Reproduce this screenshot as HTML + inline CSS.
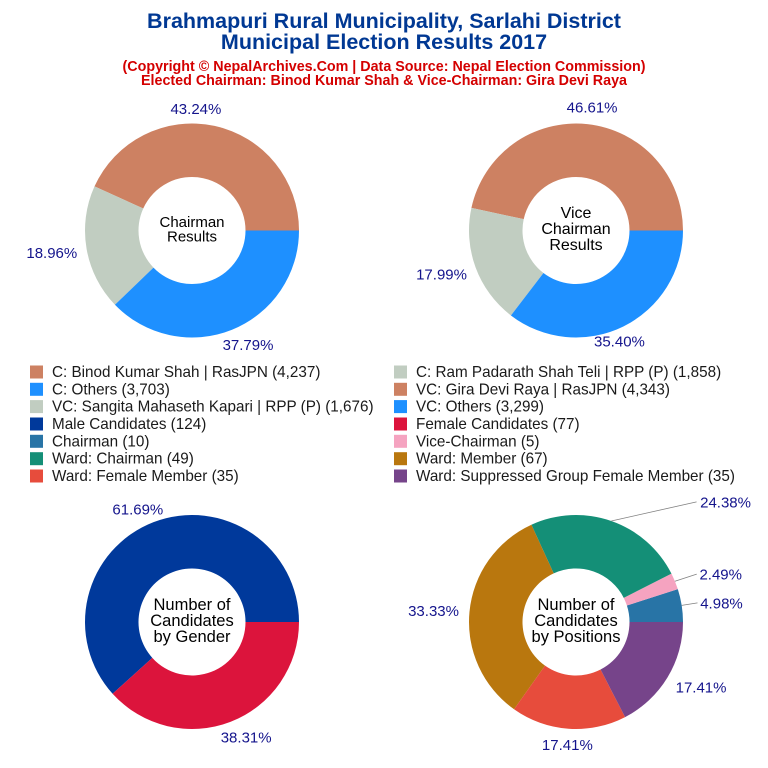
<!DOCTYPE html>
<html lang="en">
<head>
<meta charset="utf-8">
<title>Brahmapuri Rural Municipality Election Results</title>
<style>
html,body{margin:0;padding:0;background:#fff;}
svg{display:block;font-family:"Liberation Sans",Arial,sans-serif;filter:blur(0.35px);}
</style>
</head>
<body>
<svg id="chart" width="768" height="768" viewBox="0 0 768 768" xmlns="http://www.w3.org/2000/svg">
  <rect width="768" height="768" fill="#fff"/>
  <text x="384" y="28" text-anchor="middle" font-size="21.5" font-weight="bold" fill="#003893">Brahmapuri Rural Municipality, Sarlahi District</text>
  <text x="384" y="49" text-anchor="middle" font-size="21.5" font-weight="bold" fill="#003893">Municipal Election Results 2017</text>
  <text x="384" y="71" text-anchor="middle" font-size="14.3" font-weight="bold" fill="#d40000">(Copyright © NepalArchives.Com | Data Source: Nepal Election Commission)</text>
  <text x="384" y="85" text-anchor="middle" font-size="14.3" font-weight="bold" fill="#d40000">Elected Chairman: Binod Kumar Shah &amp; Vice-Chairman: Gira Devi Raya</text>
  <g id="donuts"></g>
  <g id="legend"></g>
</svg>
<script>
// Data (slices listed counter-clockwise from 3 o'clock)
const chairmanValues = [4237, 1858, 3703];
const viceChairmanValues = [4343, 1676, 3299];
const genderValues = [124, 77];
const positionValues = [10, 5, 49, 67, 35, 35];

const chairmanNames = ['C: Binod Kumar Shah | RasJPN', 'C: Ram Padarath Shah Teli | RPP (P)', 'C: Others'];
const viceChairmanNames = ['VC: Gira Devi Raya | RasJPN', 'VC: Sangita Mahaseth Kapari | RPP (P)', 'VC: Others'];
const genderNames = ['Male Candidates', 'Female Candidates'];
const positionNames = ['Chairman', 'Vice-Chairman', 'Ward: Chairman', 'Ward: Member', 'Ward: Female Member', 'Ward: Suppressed Group Female Member'];

// Styling and layout (not data)
const NS = 'http://www.w3.org/2000/svg';
const chairmanColors = ['#CD8162', '#C1CDC1', '#1E90FF'];
const viceColors = ['#CD8162', '#C1CDC1', '#1E90FF'];
const genderColors = ['#00399B', '#DC143C'];
const positionColors = ['#2874A6', '#F5A3C0', '#148F77', '#B9770E', '#E74C3C', '#76448A'];
const LABEL_COLOR = '#14148c';
const OUTER = 107;
const INNER = 53.5;
const LABEL_R = 123;

const donutSpecs = [
  {name:'chairman', cx:192, cy:230.5, values:chairmanValues, colors:chairmanColors, center:['Chairman','Results'], centerY:[227,241.5], centerSize:15,
   nudges:[[-22,-2],[-19,1],[10,0]], leaders:[]},
  {name:'vice-chairman', cx:576, cy:230.5, values:viceChairmanValues, colors:viceColors, center:['Vice','Chairman','Results'], centerY:[218,234,250], centerSize:16,
   nudges:[[3,-1],[-19,1],[-11,0]], leaders:[]},
  {name:'gender', cx:192, cy:622, values:genderValues, colors:genderColors, center:['Number of','Candidates','by Gender'], centerY:[610,626,642], centerSize:16.5,
   nudges:[[-10,2],[10,0]], leaders:[]},
  {name:'positions', cx:576, cy:622, values:positionValues, colors:positionColors, center:['Number of','Candidates','by Positions'], centerY:[610,626,642], centerSize:16.5,
   nudges:[[24,0],[31,-1],[109,-4],[-20,0],[0,0],[20,1]],
   leaders:[[0,0],[7,-1],[80,-4],null,null,null]}
];

const legendLeft = [
  [chairmanNames[0], chairmanValues[0], chairmanColors[0]],
  [chairmanNames[2], chairmanValues[2], chairmanColors[2]],
  [viceChairmanNames[1], viceChairmanValues[1], viceColors[1]],
  [genderNames[0], genderValues[0], genderColors[0]],
  [positionNames[0], positionValues[0], positionColors[0]],
  [positionNames[2], positionValues[2], positionColors[2]],
  [positionNames[4], positionValues[4], positionColors[4]]
];
const legendRight = [
  [chairmanNames[1], chairmanValues[1], chairmanColors[1]],
  [viceChairmanNames[0], viceChairmanValues[0], viceColors[0]],
  [viceChairmanNames[2], viceChairmanValues[2], viceColors[2]],
  [genderNames[1], genderValues[1], genderColors[1]],
  [positionNames[1], positionValues[1], positionColors[1]],
  [positionNames[3], positionValues[3], positionColors[3]],
  [positionNames[5], positionValues[5], positionColors[5]]
];
const legendRowY = [372, 389.3, 406.6, 424, 441.3, 458.7, 476];

function polar(cx, cy, r, frac) {
  const a = frac * 2 * Math.PI;
  return [cx + r * Math.cos(a), cy - r * Math.sin(a)];
}
function slicePath(cx, cy, f0, f1) {
  const large = (f1 - f0) > 0.5 ? 1 : 0;
  const a = polar(cx, cy, OUTER, f0), b = polar(cx, cy, OUTER, f1);
  const c = polar(cx, cy, INNER, f1), d = polar(cx, cy, INNER, f0);
  return 'M' + a[0] + ' ' + a[1] + 'A' + OUTER + ' ' + OUTER + ' 0 ' + large + ' 0 ' + b[0] + ' ' + b[1] +
         'L' + c[0] + ' ' + c[1] + 'A' + INNER + ' ' + INNER + ' 0 ' + large + ' 1 ' + d[0] + ' ' + d[1] + 'Z';
}

const donutsLayer = document.getElementById('donuts');
donutSpecs.forEach(function (spec) {
  const group = document.createElementNS(NS, 'g');
  
  
  donutsLayer.appendChild(group);
  const total = spec.values.reduce(function (s, v) { return s + v; }, 0);
  let cum = 0;
  spec.values.forEach(function (v, i) {
    const f0 = cum / total, f1 = (cum + v) / total, mid = (f0 + f1) / 2;
    cum += v;
    const path = document.createElementNS(NS, 'path');
    path.setAttribute('d', slicePath(spec.cx, spec.cy, f0, f1));
    path.setAttribute('fill', spec.colors[i]);
    
    
    group.appendChild(path);

    const anchor = polar(spec.cx, spec.cy, LABEL_R, mid);
    const leader = spec.leaders[i];
    if (leader) {
      const start = polar(spec.cx, spec.cy, OUTER, mid);
      const line = document.createElementNS(NS, 'line');
      line.setAttribute('x1', start[0]);
      line.setAttribute('y1', start[1]);
      line.setAttribute('x2', anchor[0] + leader[0]);
      line.setAttribute('y2', anchor[1] + leader[1]);
      line.setAttribute('stroke', '#808080');
      line.setAttribute('stroke-width', '0.8');
      
      
      group.appendChild(line);
    }
    const label = document.createElementNS(NS, 'text');
    label.setAttribute('x', anchor[0] + spec.nudges[i][0]);
    label.setAttribute('y', anchor[1] + spec.nudges[i][1] + 5.5);
    label.setAttribute('text-anchor', 'middle');
    label.setAttribute('font-size', '15');
    label.setAttribute('fill', LABEL_COLOR);
    
    
    label.textContent = (v / total * 100).toFixed(2) + '%';
    group.appendChild(label);
  });
  spec.center.forEach(function (line, i) {
    const t = document.createElementNS(NS, 'text');
    t.setAttribute('x', spec.cx);
    t.setAttribute('y', spec.centerY[i]);
    t.setAttribute('text-anchor', 'middle');
    t.setAttribute('font-size', spec.centerSize);
    t.setAttribute('fill', '#000');
    
    
    t.textContent = line;
    group.appendChild(t);
  });
});

const legendLayer = document.getElementById('legend');
function drawLegendColumn(rows, swatchX, textX) {
  rows.forEach(function (row, i) {
    const y = legendRowY[i];
    const swatch = document.createElementNS(NS, 'rect');
    swatch.setAttribute('x', swatchX);
    swatch.setAttribute('y', y - 6.5);
    swatch.setAttribute('width', 13);
    swatch.setAttribute('height', 13);
    swatch.setAttribute('fill', row[2]);
    
    
    legendLayer.appendChild(swatch);
    const t = document.createElementNS(NS, 'text');
    t.setAttribute('x', textX);
    t.setAttribute('y', y + 5);
    t.setAttribute('font-size', '15.25');
    t.setAttribute('fill', '#1a1a1a');
    
    
    t.textContent = row[0] + ' (' + row[1].toLocaleString('en-US') + ')';
    legendLayer.appendChild(t);
  });
}
drawLegendColumn(legendLeft, 30, 52);
drawLegendColumn(legendRight, 394, 416);
</script>
</body>
</html>
